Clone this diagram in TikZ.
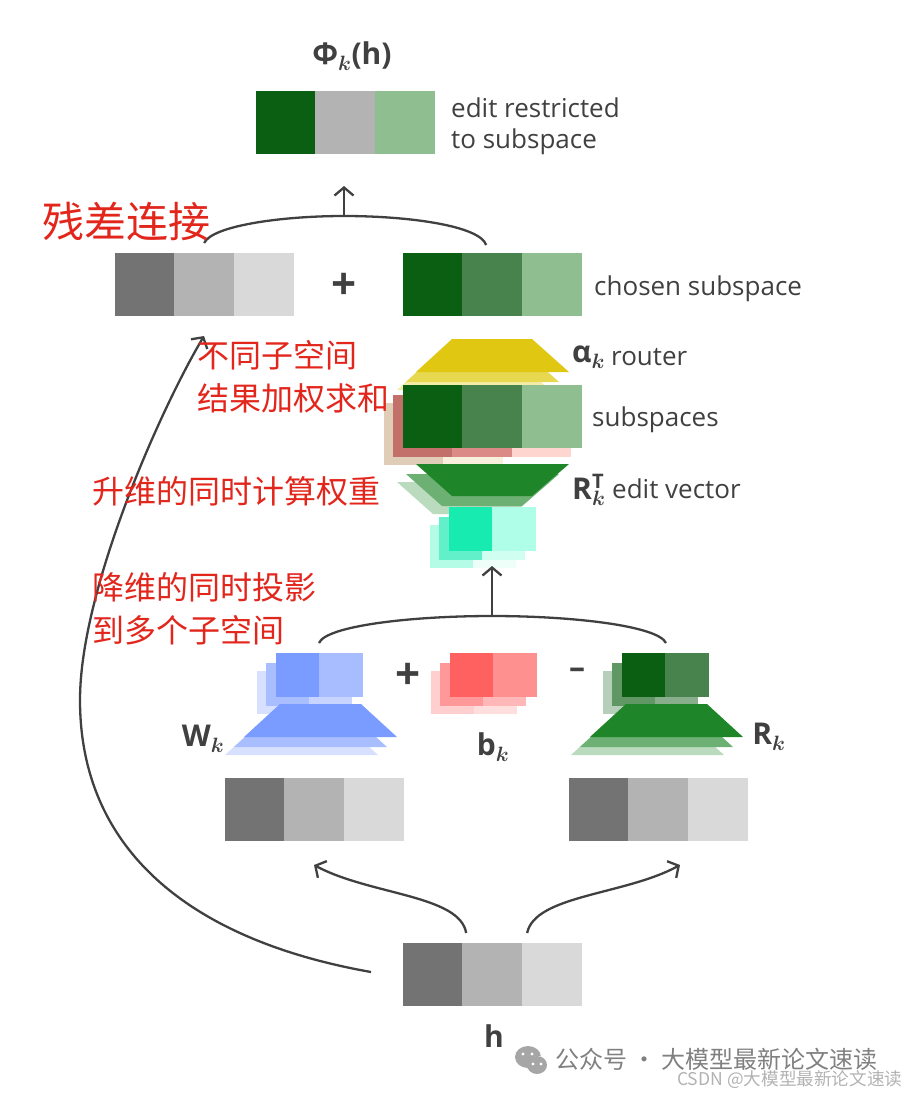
\documentclass[tikz,border=0pt]{standalone}
\usepackage{fontspec}
\setmainfont{Open Sans}
\newfontfamily\cjk{Noto Sans CJK SC}
\usetikzlibrary{arrows.meta, positioning, calc}

\definecolor{inkgray}{HTML}{404040}
\definecolor{notered}{HTML}{E2261C}
\definecolor{grayA}{HTML}{737373}
\definecolor{grayB}{HTML}{B3B3B3}
\definecolor{grayC}{HTML}{D9D9D9}
\definecolor{greenA}{HTML}{0B5F12}
\definecolor{greenB}{HTML}{48824C}
\definecolor{greenC}{HTML}{8FBF90}
\definecolor{trapG}{HTML}{1E8628}
\definecolor{yelA}{HTML}{DFC712}
\definecolor{yelB}{HTML}{E8D850}
\definecolor{yelC}{HTML}{F3ECA8}
\definecolor{subAa}{HTML}{E0CDB8}
\definecolor{subAb}{HTML}{F6F0DC}
\definecolor{subBa}{HTML}{C4706A}
\definecolor{subBb}{HTML}{DC8A85}
\definecolor{subBc}{HTML}{FFD5D0}
\definecolor{tealA}{HTML}{18EBB0}
\definecolor{tealB}{HTML}{AFFFE8}
\definecolor{tealC}{HTML}{62F0CA}
\definecolor{tealD}{HTML}{D0FFF1}
\definecolor{tealE}{HTML}{B4FCE6}
\definecolor{tealF}{HTML}{EEFFFA}
\definecolor{blueA}{HTML}{7A9BFF}
\definecolor{blueB}{HTML}{A8BDFF}
\definecolor{redA}{HTML}{FF6060}
\definecolor{redB}{HTML}{FF9090}

\begin{document}
\begin{tikzpicture}[
  x=1pt, y=-1pt,
  node distance=-0.25pt,
  cell/.style={rectangle, fill=#1, draw=#1, line width=0.5pt, minimum width=59.1pt, minimum height=61.5pt, inner sep=0pt, anchor=north west},
  small/.style={rectangle, fill=#1, draw=#1, line width=0.5pt, minimum width=42.75pt, minimum height=42.5pt, inner sep=0pt, anchor=north west},
  lab/.style={text=inkgray, font=\fontsize{26}{31}\selectfont, anchor=west, inner sep=0pt, align=left},
  symb/.style={text=inkgray, font=\fontsize{30}{34}\selectfont\bfseries\boldmath, inner sep=0pt},
  sign/.style={text=inkgray, font=\fontsize{44}{44}\selectfont\bfseries, inner sep=0pt},
  note/.style={text=notered, font=\fontsize{32}{43}\selectfont\cjk, anchor=west, inner sep=0pt, align=left},
  wmk/.style={text=gray, inner sep=0pt, anchor=west},
  arrow/.style={-{Straight Barb[length=8pt,width=19pt]}, inkgray, line width=2.3pt},
  curve/.style={inkgray, line width=2.3pt}
]
  \useasboundingbox (0,0) rectangle (907,1095);

  % output row
  \node[cell=greenA] (out1) at (256,91) {};
  \node[cell=grayB, right=of out1] (out2) {};
  \node[cell=greenC, right=of out2] (out3) {};

  % residual row and chosen subspace
  \node[cell=grayA] (res1) at (115,253) {};
  \node[cell=grayB, right=of res1] (res2) {};
  \node[cell=grayC, right=of res2] (res3) {};
  \node[cell=greenA] (cho1) at (403,253) {};
  \node[cell=greenB, right=of cho1] (cho2) {};
  \node[cell=greenC, right=of cho2] (cho3) {};

  % router
  \foreach \dx/\dy/\col in {-19/18/yelC,-10/10/yelB,0/0/yelA}
    \fill[\col, shift={(\dx,\dy)}] (452,339) -- (532,339) -- (569,372) -- (416,372) -- cycle;

  % subspaces
  \foreach \dx/\dy/\cola/\colb/\colc in {-19/18/subAa/subAb/white,-10/10/subBa/subBb/subBc} {
    \fill[\cola] (403+\dx,385+\dy) rectangle (462.5+\dx,447+\dy);
    \fill[\colb] (462+\dx,385+\dy) rectangle (522.5+\dx,447+\dy);
    \fill[\colc] (522+\dx,385+\dy) rectangle (581+\dx,447+\dy);
  }
  \node[cell=greenA] (sub1) at (403,385) {};
  \node[cell=greenB, right=of sub1] (sub2) {};
  \node[cell=greenC, right=of sub2] (sub3) {};

  % edit vector
  \foreach \dx/\dy/\col in {-19/18/{trapG!30!white},-10/10/{trapG!65!white},0/0/trapG}
    \fill[\col, shift={(\dx,\dy)}] (416,464) -- (569,464) -- (532,496) -- (452,496) -- cycle;
  \foreach \dx/\dy/\cola/\colb in {-19/18/tealE/tealF,-10/10/tealC/tealD} {
    \fill[\cola] (449+\dx,507+\dy) rectangle (492+\dx,550+\dy);
    \fill[\colb] (492+\dx,507+\dy) rectangle (535+\dx,550+\dy);
  }
  \node[small=tealA] (edi1) at (449,507) {};
  \node[small=tealB, right=of edi1] (edi2) {};

  % W, b and R
  \foreach \x/\cola/\colb in {276/blueA/blueB,450/redA/redB,622/greenA/greenB} {
    \foreach \dx/\dy/\amt in {-19/18/30,-10/10/65} {
      \fill[\cola!\amt!white] (\x+\dx,653+\dy) rectangle (\x+43+\dx,696+\dy);
      \fill[\colb!\amt!white] (\x+43+\dx,653+\dy) rectangle (\x+86+\dx,696+\dy);
    }
  }
  \node[small=blueA] (wgt1) at (276,653) {};
  \node[small=blueB, right=of wgt1] (wgt2) {};
  \node[small=redA] (bia1) at (450,653) {};
  \node[small=redB, right=of bia1] (bia2) {};
  \node[small=greenA] (rot1) at (622,653) {};
  \node[small=greenB, right=of rot1] (rot2) {};
  \foreach \x/\col in {0/blueA,346/trapG}
    \foreach \dx/\dy/\amt in {-19/18/30,-10/10/65,0/0/100}
      \fill[\col!\amt!white, shift={(\x+\dx,\dy)}] (280,704) -- (361,704) -- (397,737) -- (244,737) -- cycle;

  % input rows
  \node[cell=grayA] (lft1) at (225,778) {};
  \node[cell=grayB, right=of lft1] (lft2) {};
  \node[cell=grayC, right=of lft2] (lft3) {};
  \node[cell=grayA] (rgt1) at (569,778) {};
  \node[cell=grayB, right=of rgt1] (rgt2) {};
  \node[cell=grayC, right=of rgt2] (rgt3) {};
  \node[cell=grayA] (inp1) at (403,943) {};
  \node[cell=grayB, right=of inp1] (inp2) {};
  \node[cell=grayC, right=of inp2] (inp3) {};

  % connectors
  \coordinate (topjoin) at (344,216);
  \coordinate (topend) at (344,186);
  \coordinate (midjoin) at (492,616);
  \coordinate (midend) at (492,566);
  \coordinate (lfthead) at (314,865);
  \coordinate (rgthead) at (680,865);
  \coordinate (reshead) at (204,336);
  \draw[curve] ($(res2.north)+(0,-10)$) .. controls (212,226) and (280,216) .. (topjoin)
    .. controls (410,216) and (480,226) .. ($(cho2.north)+(-6,-8)$);
  \draw[arrow] (topjoin) -- (topend);
  \draw[curve] (319,643) .. controls (326,626) and (410,616) .. (midjoin)
    .. controls (574,616) and (658,626) .. (666,643);
  \draw[arrow] (midjoin) -- (midend);
  \draw[arrow] ($(inp2.north)+(-26,-10)$) .. controls (460,895) and (370,895) .. (lfthead);
  \draw[arrow] ($(inp2.north)+(35,-10)$) .. controls (535,895) and (625,895) .. (rgthead);
  \draw[arrow] ($(inp1.west)+(-32,-2)$) .. controls (190,940) and (80,850) .. (80,700)
    .. controls (80,590) and (160,410) .. (reshead);

  % labels
  \node[symb] (phi) at (352,56) {Φ$_{k}$(h)};
  \node[lab, anchor=north west] (editlab) at (451,98) {edit restricted\\to subspace};
  \node[sign] (plus1) at (344,286) {+};
  \node[lab] (chosenlab) at (594,289) {chosen subspace};
  \node[symb, anchor=west] (alpha) at (572,357) {α$_{k}$};
  \node[lab] (routerlab) at (611,357) {router};
  \node[lab] (sublab) at (592,420) {subspaces};
  \node[symb, anchor=west] (rtrans) at (572,490) {R\rlap{\raisebox{11pt}{\fontsize{20}{20}\selectfont T}}$_{k}$};
  \node[lab] (editvec) at (612,489) {edit vector};
  \node[sign] (plus2) at (408,676) {+};
  \node[sign, font=\fontsize{32}{32}\selectfont\bfseries] (minus) at (577,673) {–};
  \node[symb] (wlab) at (203,739) {W$_{k}$};
  \node[symb] (blab) at (493,747) {b$_{k}$};
  \node[symb] (rlab) at (769,737) {R$_{k}$};
  \node[symb] (hlab) at (494,1036) {h};

  % notes
  \node[note, font=\fontsize{42}{50}\selectfont\cjk] (resnote) at (42,222) {残差连接};
  \node[note, anchor=north west] (sumnote) at (197,340) {不同子空间\\结果加权求和};
  \node[note] (upnote) at (92,491) {升维的同时计算权重};
  \node[note, anchor=north west] (downnote) at (92,572) {降维的同时投影\\到多个子空间};

  % watermark
  \fill[gray!70] (528,1057) ellipse (13 and 11);
  \fill[white] (539,1066) ellipse (11 and 10);
  \fill[gray!70] (537,1065) ellipse (10 and 9);
  \foreach \ex/\ey in {523/1054,532/1054,533/1064,541/1064}
    \fill[white] (\ex,\ey) circle (1.6);
  \node[wmk, font=\fontsize{24}{29}\selectfont\cjk] (wmark) at (555,1059) {公众号 · 大模型最新论文速读};
  \node[wmk, text=gray!60, font=\fontsize{17.6}{20}\selectfont\cjk] (csdn) at (677,1080) {CSDN @大模型最新论文速读};
\end{tikzpicture}
\end{document}
